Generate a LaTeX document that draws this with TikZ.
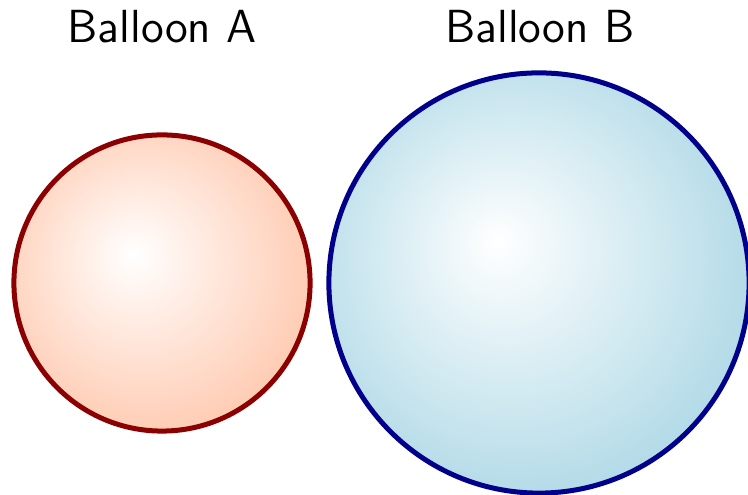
\documentclass[tikz,border=0pt]{standalone}
\definecolor{peachA}{RGB}{255,200,174}
\definecolor{blueB}{RGB}{173,216,230}
\definecolor{rimA}{RGB}{139,0,0}
\definecolor{rimB}{RGB}{0,0,139}
\pgfdeclareradialshading{ballA}{\pgfpoint{-5bp}{5bp}}{color(0bp)=(white); color(30bp)=(peachA); color(50bp)=(peachA)}
\pgfdeclareradialshading{ballB}{\pgfpoint{-5bp}{5bp}}{color(0bp)=(white); color(30bp)=(blueB); color(50bp)=(blueB)}
\tikzset{
  balloon/.style={circle, inner sep=0pt, line width=0.05cm},
  lbl/.style={font=\sffamily\fontsize{13.2}{16}\selectfont, anchor=base, inner sep=0pt}
}
\begin{document}
\begin{tikzpicture}[x=0.01cm,y=-0.01cm]
\useasboundingbox (0,0) rectangle (748,495);
\node[balloon, draw=rimA, shading=ballA, minimum size=2.96cm] (balA) at (162,283) {};
\node[balloon, draw=rimB, shading=ballB, minimum size=4.2cm] (balB) at (539,283) {};
\node[lbl] (labA) at (162,43) {Balloon A};
\node[lbl] (labB) at (540,43) {Balloon B};
\end{tikzpicture}
\end{document}
